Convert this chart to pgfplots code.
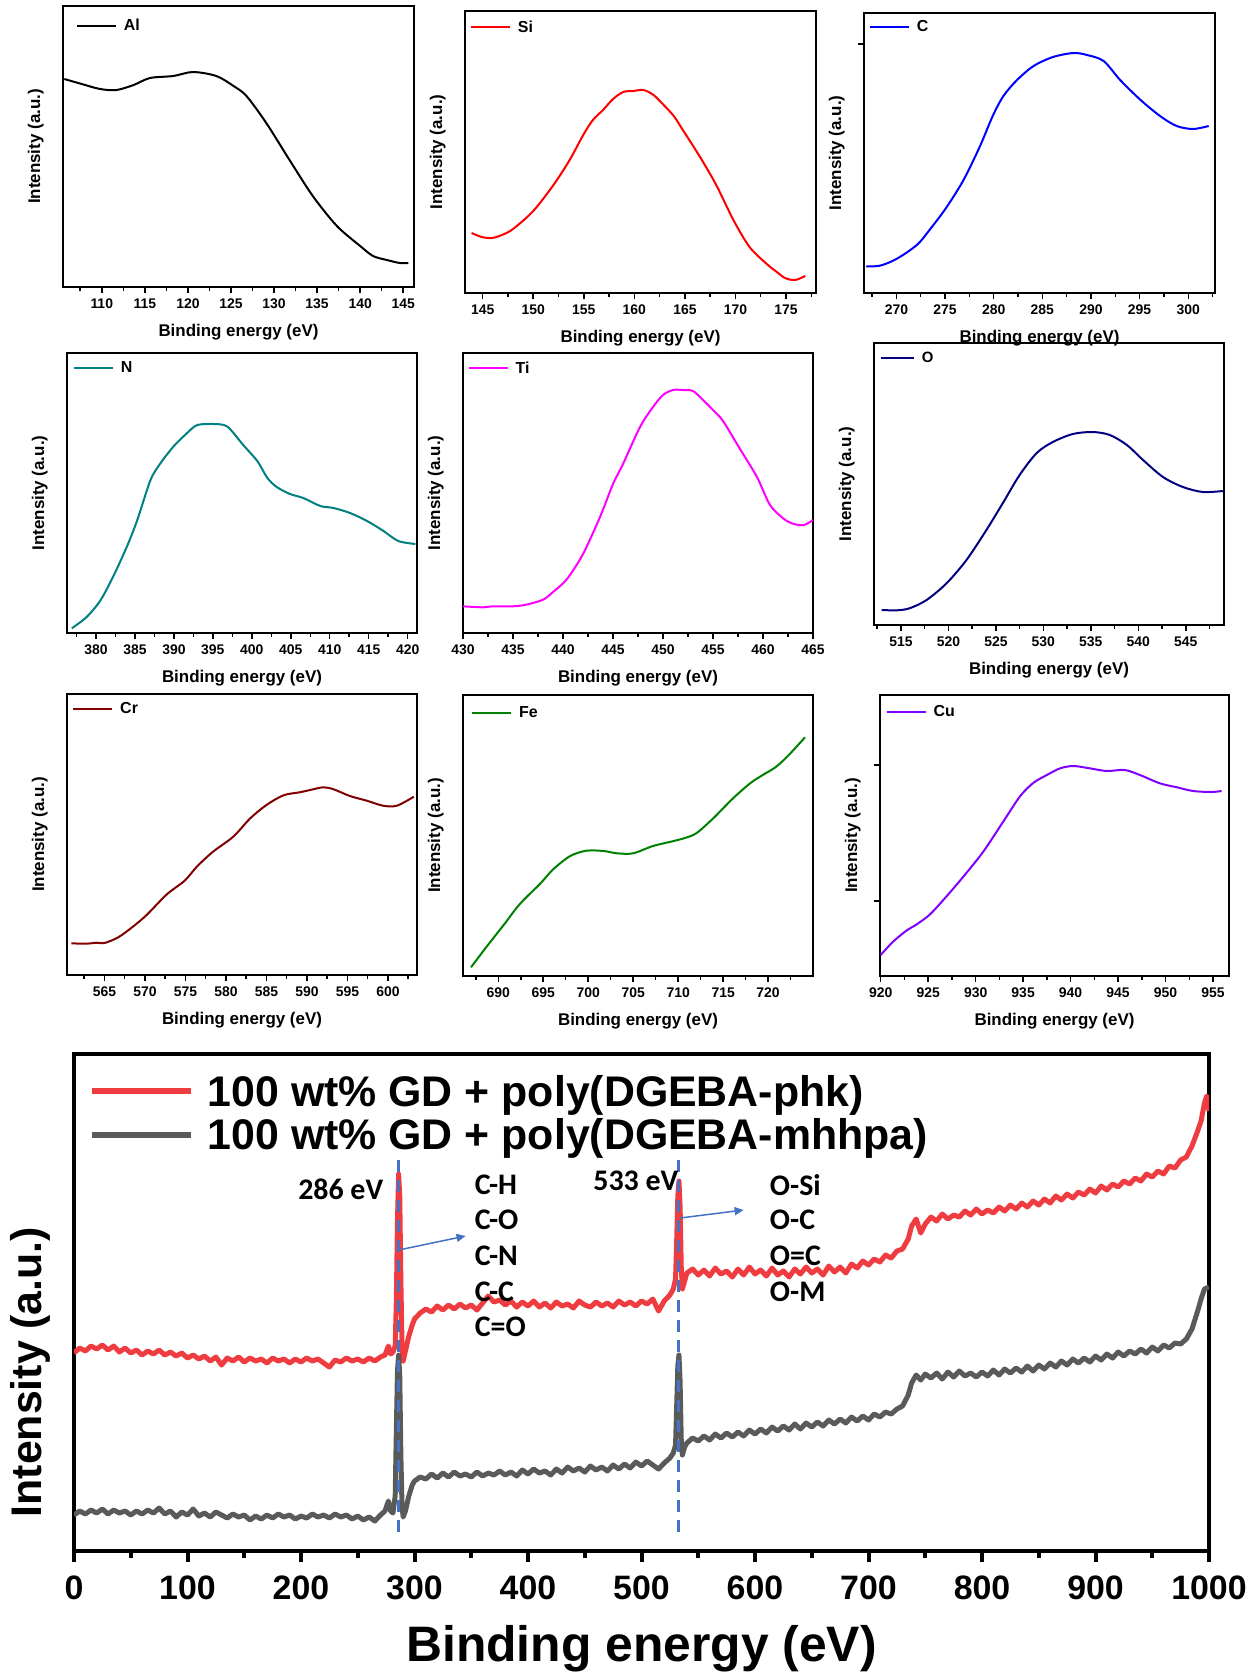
\documentclass[border=0pt]{standalone}
\usepackage{fontspec}
\setmainfont{Liberation Sans}
\newfontfamily\calfont{Carlito}
\usepackage{pgfplots}
\pgfplotsset{compat=1.18}
\usetikzlibrary{arrows.meta}
\definecolor{cAl}{RGB}{0,0,0}
\definecolor{cSi}{RGB}{255,0,0}
\definecolor{cC}{RGB}{0,0,255}
\definecolor{cN}{RGB}{0,128,128}
\definecolor{cTi}{RGB}{255,0,255}
\definecolor{cO}{RGB}{0,0,128}
\definecolor{cCr}{RGB}{128,0,0}
\definecolor{cFe}{RGB}{0,128,0}
\definecolor{cCu}{RGB}{128,0,255}
\definecolor{bigred}{RGB}{238,60,64}
\definecolor{biggray}{RGB}{90,90,90}
\definecolor{annblue}{RGB}{68,114,196}
\pgfplotsset{
  smallp/.style={
    scale only axis, anchor=north west,
    ymin=0, ytick=\empty,
    axis line style={line width=2.2bp},
    xtick distance=5, minor x tick num=1,
    xtick pos=bottom, ytick pos=left, tick align=outside,
    major tick length=6bp, minor tick length=3.5bp,
    tick style={line width=1.5bp, black},
    scaled x ticks=false,
    xticklabel shift=2.5bp,
    /pgf/number format/assume math mode=true,
    /pgf/number format/1000 sep={},
    tick label style={font=\fontsize{14}{16}\selectfont\bfseries},
    label style={font=\fontsize{17}{20}\selectfont\bfseries},
    xlabel={Binding energy (eV)}, ylabel={Intensity (a.u.)},
    xlabel style={at={(axis description cs:0.5,0)}, anchor=center, yshift=-45bp},
    ylabel style={at={(axis description cs:-0.078,0.5)}, anchor=center},
    legend style={draw=none, fill=none, inner sep=0pt, outer sep=0pt, anchor=west,
      font=\fontsize{16}{18}\selectfont\bfseries,
      /tikz/every odd column/.append style={column sep=5bp}},
    legend cell align=left,
    legend image code/.code={\draw[##1] (0bp,0bp) -- (39bp,0bp);},
  },
  curve/.style={line width=2bp, smooth, line join=round},
}
\begin{document}
\begin{tikzpicture}
\path[use as bounding box] (0,0) rectangle (1252bp,-1673bp);

% Al
\begin{axis}[smallp, at={(63bp,-6bp)}, width=351bp, height=281bp,
  xmin=105.5, xmax=146.25, ymax=281,
  legend style={at={(axis description cs:0.037,0.929)}}]
\addplot[curve, cAl] coordinates {(105.65,208) (107.67,203) (109.8,198) (111.7,197) (113.7,202) (115.6,209) (118.3,211) (120.6,215) (123.3,211) (125.3,201) (126.8,191) (129.1,164) (131.8,127) (134.5,91) (137.3,61) (140,41) (141.5,31) (143.1,27) (144.6,24) (145.6,24)};
\addlegendentry{Al}
\end{axis}

% Si
\begin{axis}[smallp, at={(465bp,-11bp)}, width=351bp, height=282bp,
  xmin=143.25, xmax=177.97, ymax=282,
  legend style={at={(axis description cs:0.014,0.943)}}]
\addplot[curve, cSi] coordinates {(143.9,60) (144.9,56) (145.9,55) (146.9,58) (148,64) (150,82) (152,108) (153.6,133) (155,159) (155.9,173) (156.9,183) (157.9,194) (158.9,201) (159.9,202) (160.9,203) (161.9,198) (162.9,188) (163.9,177) (164.8,163) (166.5,136) (168.1,108) (169.8,73) (171.4,46) (173.1,29) (174.1,21) (174.9,15) (175.9,13) (176.9,17)};
\addlegendentry{Si}
\end{axis}

% C
\begin{axis}[smallp, at={(864bp,-13bp)}, width=351bp, height=280bp,
  xmin=266.67, xmax=302.75, ymax=280, ytick={249}, yticklabels={},
  legend style={at={(axis description cs:0.014,0.95)}}]
\addplot[curve, cC] coordinates {(266.9,26.7) (268.3,27.3) (270,34) (272.1,48) (273.4,63) (275.1,85) (276.9,113) (278.6,147) (279.9,177) (281,197) (282.4,213) (284.1,227) (286.1,236) (288.2,240) (289.6,238) (291.3,232) (293,213) (295.1,193) (297.1,177) (298.8,167) (300.5,164) (302.1,167)};
\addlegendentry{C}
\end{axis}

% N
\begin{axis}[smallp, at={(67bp,-353bp)}, width=350bp, height=280bp,
  xmin=376.28, xmax=421.2, ymax=280,
  legend style={at={(axis description cs:0.017,0.946)}}]
\addplot[curve, cN] coordinates {(376.9,4.7) (378.8,16) (380.6,33) (382.3,58) (384,87) (385.3,113) (387,153) (388.3,170) (390,187) (391.7,200) (393,208) (395.1,209) (396.4,208) (397.2,204) (398.9,188) (400.7,172) (402,155) (403.2,146) (404.9,139) (406.6,135) (408.8,127) (410.5,125) (412.6,120) (414.8,112) (416.9,102) (418.8,92) (421,89)};
\addlegendentry{N}
\end{axis}

% Ti
\begin{axis}[smallp, at={(463bp,-353bp)}, width=350bp, height=280bp,
  xmin=430, xmax=465, ymax=280,
  legend style={at={(axis description cs:0.013,0.946)}}]
\addplot[curve, cTi] coordinates {(430,26.7) (432,25.7) (433,26.7) (435,26.7) (436.3,28.3) (438,33.3) (439,41) (440.4,54) (442,79) (443.7,116) (445,149) (446,169) (447.7,206) (449,226) (450,238) (451,243) (452,243) (453,242) (454,233) (455,223) (456,212) (457.7,184) (459.4,156) (460.7,128) (462.1,114) (463.1,109) (464.1,108) (465,113)};
\addlegendentry{Ti}
\end{axis}

% O
\begin{axis}[smallp, at={(874bp,-343bp)}, width=350bp, height=282bp,
  xmin=512.16, xmax=549.03, ymax=282,
  legend style={at={(axis description cs:0.017,0.947)}, font=\fontsize{15}{17}\selectfont\bfseries},
  legend image code/.code={\draw[#1] (0bp,0bp) -- (33bp,0bp);}]
\addplot[curve, cO] coordinates {(512.97,15) (514.55,14.7) (515.9,16.7) (517.7,25) (519.8,41.7) (521.9,65) (524,95) (525.8,123) (527.5,150) (529.3,172) (531,183) (533.1,191) (535.2,193) (537,190) (538.8,180) (540.5,165) (542.6,148) (544.7,138) (546.8,133) (548.9,134)};
\addlegendentry{O}
\end{axis}

% Cr
\begin{axis}[smallp, at={(67bp,-694bp)}, width=350bp, height=281bp,
  xmin=560.37, xmax=603.59, ymax=281,
  legend style={at={(axis description cs:0.015,0.947)}}]
\addplot[curve, cCr] coordinates {(560.9,31.7) (562.8,31.3) (564,32.3) (565,32) (566.7,37.7) (568.5,48.3) (570.2,60) (572.7,80.7) (574.9,94.3) (576.4,108.3) (578.4,123.3) (580.9,138.3) (583,156.7) (585,170) (587.1,179.7) (589.1,182.7) (590.4,185) (592,187.7) (593.3,185.7) (595.3,179) (597.4,174.3) (599.4,169.3) (601.1,169.3) (603.2,178.3)};
\addlegendentry{Cr}
\end{axis}

% Fe
\begin{axis}[smallp, at={(463bp,-695bp)}, width=350bp, height=281bp,
  xmin=686.08, xmax=724.99, ymax=281,
  legend style={at={(axis description cs:0.023,0.936)}}]
\addplot[curve, cFe] coordinates {(686.97,8.7) (688.7,29.3) (690.6,51) (692.4,72) (694.7,92.7) (696.1,106.7) (698,120) (699.8,125.3) (701.7,125) (703.2,122.7) (705,122.7) (707.2,130) (709.5,135) (711,138.7) (712.1,143.3) (713.9,157.7) (716.1,177.7) (718,192.7) (719.4,201) (720.9,209.3) (722.4,222) (724.1,238.7)};
\addlegendentry{Fe}
\end{axis}

% Cu
\begin{axis}[smallp, at={(880bp,-695bp)}, width=349bp, height=281bp,
  xmin=919.93, xmax=956.68, ymax=281, ytick={75,211}, yticklabels={},
  legend style={at={(axis description cs:0.016,0.94)}}]
\addplot[curve, cCu] coordinates {(920,21) (921.3,34.3) (922.7,45.3) (923.8,51.7) (925.2,61.7) (926.9,79.3) (928.7,99.3) (930.8,124.3) (932.9,154.3) (934.7,180) (936.1,193.3) (937.5,201) (938.9,207.7) (940.3,210) (942,207.7) (943.8,205) (945.7,206) (947.3,201) (949.4,192.7) (951.2,188.7) (952.9,185) (954.8,184) (955.9,185)};
\addlegendentry{Cu}
\end{axis}

% Big survey panel
\begin{axis}[scale only axis, anchor=north west, at={(74bp,-1054bp)},
  width=1135bp, height=497bp,
  xmin=0, xmax=1000, ymin=0, ymax=497,
  axis line style={line width=4.5bp},
  xtick={0,100,...,1000}, minor x tick num=1, ytick=\empty,
  xtick pos=bottom, tick align=outside,
  major tick length=11bp, minor tick length=7bp,
  tick style={line width=4bp, black},
  scaled x ticks=false,
  xticklabel shift=10bp,
  /pgf/number format/assume math mode=true,
  /pgf/number format/1000 sep={},
  tick label style={font=\fontsize{34}{38}\selectfont\bfseries},
  xlabel={Binding energy (eV)}, ylabel={Intensity (a.u.)},
  xlabel style={font=\fontsize{50}{56}\selectfont\bfseries, at={(axis description cs:0.5,0)}, anchor=center, yshift=-98bp},
  ylabel style={font=\fontsize{43}{48}\selectfont\bfseries, at={(axis description cs:-0.038,0.36)}, anchor=center},
  legend style={draw=none, fill=none, inner sep=0pt, outer sep=0pt,
    at={(axis description cs:0.013,0.881)}, anchor=west,
    font=\fontsize{43}{46}\selectfont\bfseries, row sep=7bp,
    /tikz/every odd column/.append style={column sep=12bp}},
  legend cell align=left,
  legend image code/.code={\draw[#1, line width=6bp] (0bp,0bp) -- (99bp,0bp);},
]
\addplot[bigred, line width=5bp, line join=round] coordinates {
(0,198) (5,203) (10,200) (15,205) (20,202) (25,206) (30,201) (35,205) (40,199) (45,203)
(50,198) (55,201) (60,196) (65,200) (70,197) (75,201) (80,196) (85,199) (90,195) (95,198)
(100,193) (105,196) (110,192) (115,195) (120,190) (125,194) (130,186) (135,193) (140,190) (145,194)
(150,189) (155,193) (160,190) (165,192) (170,188) (175,193) (180,190) (185,192) (190,188) (195,192)
(200,189) (205,193) (210,190) (215,192) (220,188) (225,184) (230,191) (235,189) (240,193) (245,190)
(250,192) (255,189) (260,193) (265,190) (270,194) (274,196) (277,205) (279,197) (281,199) (283,205)
(284,250) (285,330) (286,377) (287,355) (288,270) (289,205) (290,190) (292,200) (295,215) (298,226)
(300,232) (305,238) (310,242) (315,239) (320,245) (325,241) (330,246) (335,242) (340,247) (345,243)
(350,246) (355,241) (360,248) (365,255) (370,249) (375,251) (380,246) (385,250) (390,244) (395,249)
(400,245) (405,250) (410,244) (415,248) (420,243) (425,249) (430,245) (435,247) (440,243) (445,250)
(450,246) (455,244) (460,249) (465,245) (470,248) (475,244) (480,250) (485,246) (490,249) (495,245)
(500,250) (505,247) (510,252) (515,240) (520,250) (525,256) (528,262) (530,272) (531,310) (532,355)
(533,370) (534,345) (535,285) (536,262) (538,270) (540,278) (545,282) (550,276) (555,281) (560,275)
(565,283) (570,277) (575,280) (580,274) (585,282) (590,276) (595,284) (600,277) (605,281) (610,275)
(615,283) (620,276) (625,280) (630,274) (635,282) (640,277) (645,284) (650,278) (655,282) (660,276)
(665,285) (670,279) (675,284) (680,278) (685,287) (690,283) (695,290) (700,286) (705,292) (710,289)
(715,296) (720,293) (725,300) (730,302) (735,312) (738,325) (742,332) (746,318) (750,327) (755,334)
(760,330) (765,337) (770,332) (775,336) (780,334) (785,340) (790,336) (795,342) (800,337) (805,341)
(810,338) (815,344) (820,340) (825,346) (830,342) (835,348) (840,344) (845,350) (850,346) (855,352)
(860,348) (865,355) (870,351) (875,357) (880,353) (885,359) (890,356) (895,362) (900,358) (905,365)
(910,361) (915,367) (920,364) (925,370) (930,367) (935,373) (940,370) (945,377) (950,374) (955,380)
(960,377) (965,385) (970,383) (975,391) (980,394) (985,405) (990,420) (993,430) (996,448) (998,455)
(1000,440)};
\addlegendentry{100 wt\% GD + poly(DGEBA-phk)}
\addplot[biggray, line width=5bp, line join=round] coordinates {
(0,36) (5,40) (10,37) (15,41) (20,38) (25,42) (30,37) (35,41) (40,38) (45,40)
(50,36) (55,40) (60,37) (65,41) (70,38) (75,43) (80,37) (85,40) (90,34) (95,39)
(100,36) (105,42) (110,35) (115,38) (120,34) (125,39) (130,36) (135,33) (140,37) (145,34)
(150,36) (155,31) (160,35) (165,32) (170,36) (175,33) (180,37) (185,34) (190,36) (195,32)
(200,35) (205,33) (210,37) (215,34) (220,36) (225,33) (230,37) (235,34) (240,36) (245,32)
(250,35) (255,31) (260,34) (265,30) (270,36) (274,40) (277,50) (279,40) (281,38) (283,55)
(284,120) (285,180) (286,196) (287,175) (288,95) (289,45) (290,34) (292,40) (295,55) (298,66)
(300,70) (305,74) (310,72) (315,77) (320,73) (325,78) (330,74) (335,79) (340,75) (345,77)
(350,74) (355,79) (360,75) (365,78) (370,76) (375,80) (380,76) (385,79) (390,75) (395,81)
(400,77) (405,82) (410,78) (415,80) (420,76) (425,82) (430,78) (435,84) (440,80) (445,83)
(450,79) (455,85) (460,81) (465,84) (470,80) (475,86) (480,82) (485,87) (490,83) (495,89)
(500,85) (505,90) (510,86) (515,82) (520,88) (525,93) (528,98) (530,106) (531,145) (532,185)
(533,196) (534,170) (535,112) (536,96) (538,104) (540,108) (545,113) (550,110) (555,115) (560,111)
(565,117) (570,113) (575,118) (580,114) (585,119) (590,115) (595,121) (600,117) (605,122) (610,118)
(615,124) (620,120) (625,125) (630,121) (635,127) (640,122) (645,128) (650,124) (655,129) (660,125)
(665,131) (670,127) (675,132) (680,128) (685,134) (690,130) (695,135) (700,131) (705,137) (710,134)
(715,139) (720,137) (725,142) (730,145) (735,156) (738,168) (742,176) (746,171) (750,177) (755,173)
(760,178) (765,172) (770,179) (775,174) (780,180) (785,175) (790,178) (795,174) (800,179) (805,175)
(810,181) (815,176) (820,182) (825,178) (830,183) (835,179) (840,185) (845,180) (850,186) (855,182)
(860,188) (865,184) (870,190) (875,186) (880,192) (885,188) (890,193) (895,189) (900,195) (905,191)
(910,197) (915,193) (920,199) (925,195) (930,200) (935,197) (940,202) (945,198) (950,204) (955,200)
(960,206) (965,203) (970,208) (975,207) (980,212) (985,222) (990,240) (993,252) (996,262) (1000,264)};
\addlegendentry{100 wt\% GD + poly(DGEBA-mhhpa)}
\addplot[forget plot, annblue, line width=3bp, dash pattern=on 12bp off 8bp] coordinates {(286,391) (286,13)};
\addplot[forget plot, annblue, line width=3bp, dash pattern=on 12bp off 8bp] coordinates {(533,391) (533,13)};
\draw[annblue, line width=1.5bp, -{Triangle[length=9bp,width=8bp]}] (axis cs:286,301) -- (axis cs:345,315);
\draw[annblue, line width=1.5bp, -{Triangle[length=9bp,width=8bp]}] (axis cs:534,333) -- (axis cs:590,341);
\begin{scope}[every node/.style={font=\calfont\bfseries\fontsize{30}{34}\selectfont, inner sep=0pt}]
\node at (axis cs:235,362) {286 eV};
\node at (axis cs:495,370) {533 eV};
\node[anchor=west] at (axis cs:353,366) {C-H};
\node[anchor=west] at (axis cs:353,331) {C-O};
\node[anchor=west] at (axis cs:353,295) {C-N};
\node[anchor=west] at (axis cs:353,259) {C-C};
\node[anchor=west] at (axis cs:353,224) {C=O};
\node[anchor=west] at (axis cs:613,366) {O-Si};
\node[anchor=west] at (axis cs:613,331) {O-C};
\node[anchor=west] at (axis cs:613,295) {O=C};
\node[anchor=west] at (axis cs:613,259) {O-M};
\end{scope}
\end{axis}
\end{tikzpicture}
\end{document}
